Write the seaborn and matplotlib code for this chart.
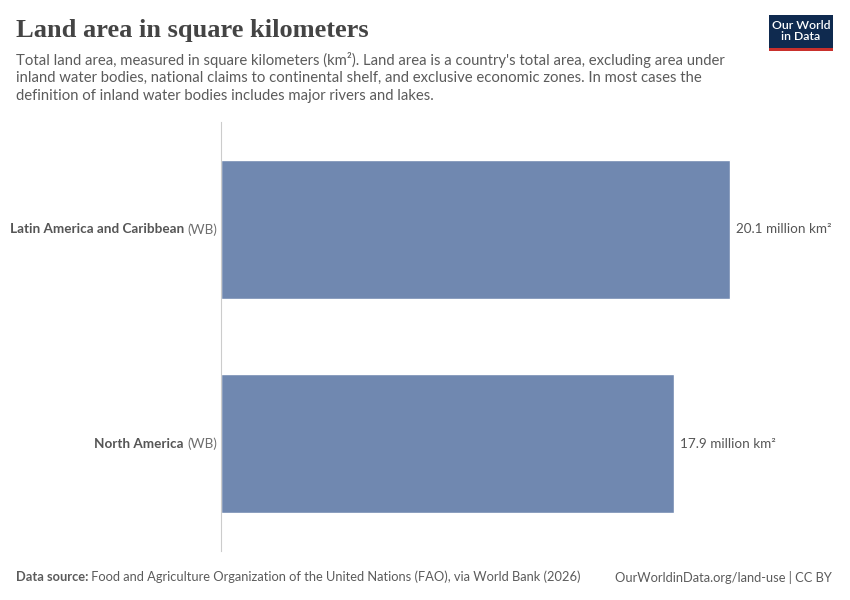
import matplotlib
matplotlib.use("Agg")
import matplotlib.pyplot as plt
import seaborn as sns
import pandas as pd
from matplotlib.patches import Rectangle

regions = ["Latin America and Caribbean", "North America"]
suffixes = ["(WB)", "(WB)"]
values = [20.1, 17.9]
value_labels = ["20.1 million km²", "17.9 million km²"]

title = "Land area in square kilometers"
subtitle = ("Total land area, measured in square kilometers (km²). Land area is a country's total area, excluding area under\n"
            "inland water bodies, national claims to continental shelf, and exclusive economic zones. In most cases the\n"
            "definition of inland water bodies includes major rivers and lakes.")
source_bold = "Data source:"
source_rest = " Food and Agriculture Organization of the United Nations (FAO), via World Bank (2026)"
right_footer = "OurWorldinData.org/land-use | CC BY"

df = pd.DataFrame({"region": regions, "value": values})

sns.set_theme(style="white")
plt.rcParams["font.family"] = ["Lato", "DejaVu Sans"]

W, H = 850, 600
fig = plt.figure(figsize=(W / 100, H / 100), dpi=100)
fig.patch.set_facecolor("white")

def fx(x): return x / W
def fy(y): return 1 - y / H

ax = fig.add_axes([fx(221), fy(551), (829 - 221) / W, (551 - 122) / H])
sns.barplot(data=df, x="value", y="region", color="#7088b0", saturation=1,
            width=0.65, ax=ax, orient="h")
ax.set_xlim(0, 24.0)
ax.set_ylim(1.5, -0.5)
ax.set_xlabel("")
ax.set_ylabel("")
ax.set_xticks([])
ax.set_yticks([])
for s in ["top", "right", "bottom"]:
    ax.spines[s].set_visible(False)
ax.spines["left"].set_color("#cccccc")
ax.spines["left"].set_linewidth(0.8)
ax.set_facecolor("white")

for i, (reg, suf, v, lab) in enumerate(zip(regions, suffixes, values, value_labels)):
    t = ax.annotate(suf, xy=(0, i), xycoords=("axes fraction", "data"),
                    xytext=(-4, 0), textcoords="offset pixels",
                    ha="right", va="center", fontsize=9.7, color="#6e6e6e")
    ax.annotate(reg + " ", xy=(0, 0.5), xycoords=t, ha="right", va="center",
                fontsize=9.7, color="#555555", fontweight="bold")
    ax.annotate(lab, xy=(v, i), xycoords="data", xytext=(6, 0),
                textcoords="offset pixels", ha="left", va="center",
                fontsize=9.7, color="#555555")

fig.text(fx(16), fy(30), title, family=["Liberation Serif", "DejaVu Serif"],
         fontsize=19, fontweight="bold", color="#444444", va="center", ha="left")
fig.text(fx(16), fy(52), subtitle, fontsize=10.7, color="#5b5b5b",
         va="top", ha="left", linespacing=1.3)

t1 = fig.text(fx(16), fy(577), source_bold, fontsize=9.25, color="#5b5b5b",
              fontweight="bold", va="center", ha="left")
plt.annotate(source_rest, xy=(1, 0.5), xycoords=t1, ha="left", va="center",
             fontsize=9.25, color="#5b5b5b", annotation_clip=False)
fig.text(fx(832), fy(577), right_footer, fontsize=9.25, color="#5b5b5b",
         va="center", ha="right")

# logo
logo_ax = fig.add_axes([fx(769), fy(51), (833 - 769) / W, (51 - 15) / H])
logo_ax.set_xlim(0, 1); logo_ax.set_ylim(0, 1); logo_ax.axis("off")
logo_ax.add_patch(Rectangle((0, 0.08), 1, 0.92, color="#0f2a4f", lw=0))
logo_ax.add_patch(Rectangle((0, 0), 1, 0.08, color="#c9302c", lw=0))
logo_ax.text(0.5, 0.55, "Our World\nin Data", color="white", ha="center",
             va="center", fontsize=8.8, fontweight="semibold", linespacing=1.0)

fig.savefig("out.png", dpi=100, facecolor="white")
